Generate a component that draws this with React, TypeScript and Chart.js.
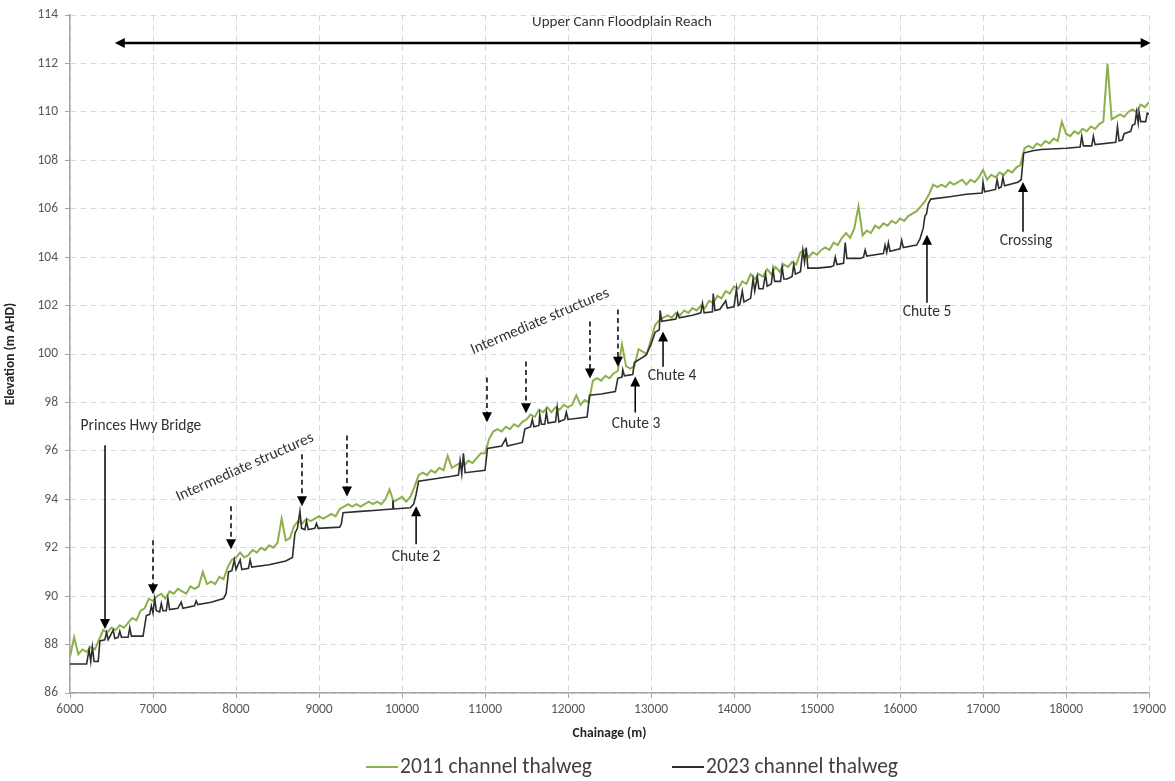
import React, { useEffect, useRef } from 'react';
import { Chart, registerables } from 'chart.js';

Chart.register(...registerables);

const FONT = "Carlito, Calibri, Lato, 'Open Sans', sans-serif";

// ---------- data ----------
const chainage2011 = [
  6000, 6050, 6100, 6150, 6200, 6250, 6300, 6350, 6400, 6450,
  6500, 6550, 6600, 6650, 6700, 6750, 6800, 6850, 6900, 6950,
  7000, 7050, 7100, 7150, 7200, 7250, 7300, 7350, 7400, 7450,
  7500, 7550, 7600, 7650, 7700, 7750, 7800, 7850, 7900, 7950,
  8000, 8050, 8100, 8150, 8200, 8250, 8300, 8350, 8400, 8450,
  8500, 8550, 8600, 8650, 8700, 8750, 8800, 8850, 8900, 8950,
  9000, 9050, 9100, 9150, 9200, 9250, 9300, 9350, 9400, 9450,
  9500, 9550, 9600, 9650, 9700, 9750, 9800, 9850, 9900, 9950,
  10000, 10050, 10100, 10150, 10200, 10250, 10300, 10350, 10400, 10450,
  10500, 10550, 10600, 10650, 10700, 10750, 10800, 10850, 10900, 10950,
  11000, 11050, 11100, 11150, 11200, 11250, 11300, 11350, 11400, 11450,
  11500, 11550, 11600, 11650, 11700, 11750, 11800, 11850, 11900, 11950,
  12000, 12050, 12100, 12150, 12200, 12250, 12300, 12350, 12400, 12450,
  12500, 12550, 12600, 12650, 12700, 12750, 12800, 12850, 12900, 12950,
  13000, 13050, 13100, 13150, 13200, 13250, 13300, 13350, 13400, 13450,
  13500, 13550, 13600, 13650, 13700, 13750, 13800, 13850, 13900, 13950,
  14000, 14050, 14100, 14150, 14200, 14250, 14300, 14350, 14400, 14450,
  14500, 14550, 14600, 14650, 14700, 14750, 14800, 14850, 14900, 14950,
  15000, 15050, 15100, 15150, 15200, 15250, 15300, 15350, 15400, 15450,
  15500, 15550, 15600, 15650, 15700, 15750, 15800, 15850, 15900, 15950,
  16000, 16050, 16100, 16150, 16200, 16250, 16300, 16350, 16400, 16450,
  16500, 16550, 16600, 16650, 16700, 16750, 16800, 16850, 16900, 16950,
  17000, 17050, 17100, 17150, 17200, 17250, 17300, 17350, 17400, 17450,
  17500, 17550, 17600, 17650, 17700, 17750, 17800, 17850, 17900, 17950,
  18000, 18050, 18100, 18150, 18200, 18250, 18300, 18350, 18400, 18450,
  18500, 18550, 18600, 18650, 18700, 18750, 18800, 18850, 18900, 18950,
  19000,
];

const elevation2011 = [
  87.5, 88.3, 87.6, 87.8, 87.7, 87.9, 87.8, 88.2, 88.6, 88.5,
  88.7, 88.6, 88.8, 88.7, 88.9, 89.1, 89.0, 89.4, 89.5, 89.9,
  89.8, 90.0, 90.1, 89.9, 90.2, 90.1, 90.3, 90.2, 90.1, 90.4,
  90.3, 90.4, 91.0, 90.5, 90.6, 90.5, 90.8, 90.7, 91.2, 91.5,
  91.6, 91.8, 91.6, 91.7, 91.9, 91.8, 92.0, 91.9, 92.1, 92.0,
  92.2, 93.2, 92.3, 92.4, 92.9, 93.1, 93.0, 93.2, 93.1, 93.2,
  93.3, 93.2, 93.3, 93.4, 93.3, 93.6, 93.7, 93.8, 93.7, 93.8,
  93.7, 93.8, 93.9, 93.8, 93.9, 93.8, 94.0, 94.4, 93.9, 94.0,
  94.1, 93.9, 94.1, 94.5, 95.0, 95.1, 95.0, 95.2, 95.1, 95.3,
  95.2, 95.8, 95.3, 95.4, 95.5, 95.4, 95.6, 95.5, 95.7, 95.9,
  95.9, 96.5, 96.8, 96.9, 96.8, 97.0, 96.9, 97.1, 97.0, 97.2,
  97.3, 97.5, 97.4, 97.7, 97.6, 97.8, 97.6, 97.8, 97.7, 97.9,
  97.8, 97.9, 98.3, 97.9, 98.1, 98.0, 98.9, 99.0, 98.9, 99.1,
  99.0, 99.2, 99.3, 100.4, 99.5, 99.4, 99.5, 100.2, 100.1, 100.0,
  100.6, 101.2, 101.4, 101.5, 101.6, 101.5, 101.7, 101.6, 101.8, 101.7,
  101.9, 101.8, 102.0, 101.9, 102.2, 102.1, 102.4, 102.3, 102.6, 102.5,
  102.8, 102.7, 103.0, 102.9, 103.3, 103.1, 103.3, 103.2, 103.5, 103.3,
  103.6, 103.4, 103.7, 103.6, 103.8, 103.7, 104.2, 104.3, 104.0, 104.2,
  104.1, 104.3, 104.4, 104.3, 104.6, 104.5, 104.8, 105.0, 104.8, 105.2,
  106.1, 104.9, 105.1, 105.0, 105.3, 105.2, 105.4, 105.3, 105.5, 105.4,
  105.6, 105.5, 105.7, 105.8, 105.9, 106.1, 106.3, 106.6, 107.0, 106.9,
  107.0, 106.9, 107.1, 107.0, 107.1, 107.2, 107.0, 107.2, 107.1, 107.3,
  107.6, 107.2, 107.4, 107.3, 107.5, 107.4, 107.6, 107.5, 107.7, 107.8,
  108.5, 108.6, 108.5, 108.7, 108.6, 108.8, 108.7, 108.9, 108.8, 109.6,
  109.1, 109.0, 109.2, 109.1, 109.3, 109.2, 109.4, 109.3, 109.5, 109.6,
  112.0, 109.7, 109.8, 109.9, 109.8, 110.0, 110.1, 110.0, 110.3, 110.2,
  110.4,
];

const chainage2023 = [
  6000, 6200, 6230, 6250, 6270, 6290, 6340, 6360, 6420, 6440,
  6460, 6520, 6540, 6580, 6600, 6620, 6700, 6720, 6740, 6880,
  6920, 6960, 6980, 7000, 7020, 7040, 7080, 7100, 7120, 7160,
  7180, 7200, 7300, 7340, 7360, 7500, 7520, 7540, 7700, 7850,
  7880, 7910, 7950, 7980, 8000, 8050, 8070, 8150, 8170, 8190,
  8400, 8600, 8680, 8710, 8740, 8770, 8790, 8830, 8850, 8870,
  8950, 8970, 8990, 9250, 9270, 9290, 9500, 9700, 9880, 9890,
  9900, 10100, 10140, 10170, 10200, 10400, 10600, 10680, 10700, 10720,
  10740, 10760, 11000, 11030, 11200, 11250, 11270, 11450, 11480, 11550,
  11570, 11590, 11650, 11660, 11680, 11720, 11740, 11760, 11850, 11870,
  11890, 11960, 11980, 12000, 12230, 12260, 12400, 12570, 12600, 12650,
  12660, 12680, 12780, 12800, 12940, 13000, 13050, 13100, 13110, 13130,
  13300, 13320, 13340, 13500, 13600, 13620, 13640, 13740, 13750, 13770,
  13830, 13900, 13920, 14000, 14030, 14050, 14070, 14100, 14120, 14200,
  14230, 14250, 14280, 14300, 14350, 14380, 14400, 14450, 14470, 14490,
  14560, 14580, 14600, 14640, 14700, 14720, 14740, 14800, 14830, 14850,
  14870, 14890, 15000, 15160, 15200, 15220, 15240, 15320, 15340, 15360,
  15520, 15560, 15580, 15600, 15700, 15800, 15820, 15840, 15860, 15880,
  16000, 16020, 16040, 16200, 16240, 16280, 16300, 16320, 16340, 16370,
  16600, 16800, 16990, 17000, 17020, 17150, 17170, 17190, 17220, 17240,
  17260, 17420, 17460, 17490, 17600, 17700, 18000, 18170, 18190, 18210,
  18310, 18330, 18350, 18600, 18620, 18640, 18680, 18700, 18780, 18800,
  18830, 18850, 18870, 18880, 18900, 18960, 18980, 19000,
];

const elevation2023 = [
  87.2, 87.2, 87.8, 87.3, 87.9, 87.3, 87.3, 88.15, 88.2, 88.5,
  88.2, 88.6, 88.25, 88.3, 88.55, 88.3, 88.3, 88.7, 88.35, 88.35,
  89.2, 89.25, 89.6, 89.3, 89.9, 89.4, 89.35, 89.7, 89.4, 89.4,
  89.9, 89.45, 89.5, 89.75, 89.5, 89.6, 89.8, 89.65, 89.75, 89.9,
  90.1, 91.0, 91.05, 91.5, 91.1, 91.5, 91.1, 91.15, 91.5, 91.2,
  91.3, 91.45, 91.6, 92.6, 92.8, 93.5, 92.8, 92.75, 93.1, 92.75,
  92.8, 93.0, 92.8, 92.85, 93.0, 93.45, 93.5, 93.55, 93.6, 93.95,
  93.6, 93.65, 93.8, 94.2, 94.75, 94.85, 94.95, 95.0, 95.6, 95.05,
  95.9, 95.1, 95.2, 96.1, 96.2, 96.5, 96.2, 96.35, 96.9, 97.0,
  97.3, 97.0, 97.05, 97.5, 97.1, 97.1, 97.6, 97.15, 97.2, 97.8,
  97.2, 97.3, 97.6, 97.3, 97.4, 98.3, 98.35, 98.45, 99.0, 99.05,
  99.35, 99.1, 99.15, 99.65, 99.95, 100.4, 100.9, 101.0, 101.8, 101.35,
  101.45, 101.7, 101.5, 101.6, 101.7, 102.1, 101.7, 101.75, 102.5, 101.8,
  101.85, 102.2, 101.9, 101.95, 102.7, 102.0, 102.05, 102.6, 102.15, 102.3,
  103.1, 102.6, 103.2, 102.7, 102.7, 103.3, 102.8, 102.9, 103.5, 103.0,
  103.0, 103.6, 103.1, 103.1, 103.2, 103.7, 103.3, 103.4, 104.3, 103.8,
  104.4, 103.55, 103.55, 103.6, 103.65, 104.0, 103.7, 103.75, 104.6, 103.95,
  103.95, 104.0, 104.3, 104.05, 104.1, 104.15, 104.5, 104.2, 104.6, 104.25,
  104.35, 104.7, 104.4, 104.5, 104.75, 105.2, 105.7, 105.8, 106.2, 106.4,
  106.5, 106.6, 106.65, 107.1, 106.7, 106.8, 107.2, 106.85, 106.9, 107.3,
  106.95, 107.1, 107.2, 108.3, 108.4, 108.45, 108.5, 108.55, 109.0, 108.6,
  108.6, 109.0, 108.65, 108.75, 109.4, 108.8, 108.85, 109.1, 109.2, 109.45,
  109.5, 110.0, 109.55, 110.0, 109.6, 109.6, 109.95, 109.9,
];

const seriesLabels = ['2011 channel thalweg', '2023 channel thalweg'];
const seriesColors = ['#8cb04a', '#2e2e2e'];

// ---------- annotations (in data coordinates) ----------
const reachArrow = { from: 6540, to: 19020, y: 112.85 };
const reachLabel = { text: 'Upper Cann Floodplain Reach', x: 12650, y: 113.71 };

const solidArrows = [
  { x: 6422, from: 96.23, to: 88.64 },
  { x: 10170, from: 92.14, to: 93.71 },
  { x: 12810, from: 97.59, to: 99.07 },
  { x: 13145, from: 99.48, to: 100.93 },
  { x: 16325, from: 102.12, to: 104.93 },
  { x: 17482, from: 105.05, to: 107.11 },
];

const dashedArrows = [
  { x: 7000, from: 92.31, to: 90.08 },
  { x: 7940, from: 93.71, to: 91.94 },
  { x: 8795, from: 95.86, to: 93.71 },
  { x: 9337, from: 96.64, to: 94.12 },
  { x: 11024, from: 99.03, to: 97.18 },
  { x: 11494, from: 99.69, to: 97.55 },
  { x: 12265, from: 101.34, to: 98.99 },
  { x: 12602, from: 101.84, to: 99.48 },
];

const textLabels = [
  { text: 'Princes Hwy Bridge', x: 6855, y: 97.01, rot: 0 },
  { text: 'Intermediate structures', x: 8108, y: 95.32, rot: -24 },
  { text: 'Intermediate structures', x: 11663, y: 101.34, rot: -23 },
  { text: 'Chute 2', x: 10169, y: 91.61, rot: 0 },
  { text: 'Chute 3', x: 12819, y: 97.09, rot: 0 },
  { text: 'Chute 4', x: 13253, y: 99.07, rot: 0 },
  { text: 'Chute 5', x: 16325, y: 101.75, rot: 0 },
  { text: 'Crossing', x: 17518, y: 104.68, rot: 0 },
];

function drawHead(ctx: CanvasRenderingContext2D, tx: number, ty: number, dx: number, dy: number, len: number, hw: number) {
  const l = Math.hypot(dx, dy) || 1;
  const ux = dx / l;
  const uy = dy / l;
  ctx.beginPath();
  ctx.moveTo(tx, ty);
  ctx.lineTo(tx - ux * len - uy * hw, ty - uy * len + ux * hw);
  ctx.lineTo(tx - ux * len + uy * hw, ty - uy * len - ux * hw);
  ctx.closePath();
  ctx.fill();
}

const annotationPlugin = {
  id: 'annotations',
  afterDatasetsDraw(chart: any) {
    const { ctx } = chart;
    const xs = chart.scales.x;
    const ys = chart.scales.y;
    ctx.save();
    ctx.fillStyle = '#000';
    ctx.strokeStyle = '#000';

    // reach double arrow
    {
      const x1 = xs.getPixelForValue(reachArrow.from);
      const x2 = xs.getPixelForValue(reachArrow.to);
      const yy = ys.getPixelForValue(reachArrow.y);
      ctx.lineWidth = 2.5;
      ctx.setLineDash([]);
      ctx.beginPath();
      ctx.moveTo(x1 + 8, yy);
      ctx.lineTo(x2 - 8, yy);
      ctx.stroke();
      drawHead(ctx, x1, yy, -1, 0, 10, 5);
      drawHead(ctx, x2, yy, 1, 0, 10, 5);
    }

    const arrow = (a: { x: number; from: number; to: number }, dashed: boolean) => {
      const px = xs.getPixelForValue(a.x);
      const p1 = ys.getPixelForValue(a.from);
      const p2 = ys.getPixelForValue(a.to);
      const dir = p2 > p1 ? 1 : -1;
      ctx.lineWidth = 1.5;
      ctx.setLineDash(dashed ? [5, 3.5] : []);
      ctx.beginPath();
      ctx.moveTo(px, p1);
      ctx.lineTo(px, p2 - dir * 9);
      ctx.stroke();
      ctx.setLineDash([]);
      drawHead(ctx, px, p2, 0, dir, 10, 5);
    };
    solidArrows.forEach((a) => arrow(a, false));
    dashedArrows.forEach((a) => arrow(a, true));

    ctx.fillStyle = '#333';
    ctx.textAlign = 'center';
    ctx.textBaseline = 'middle';
    ctx.font = `15px ${FONT}`;
    ctx.fillText(reachLabel.text, xs.getPixelForValue(reachLabel.x), ys.getPixelForValue(reachLabel.y));

    ctx.font = `15.5px ${FONT}`;
    textLabels.forEach((t) => {
      const px = xs.getPixelForValue(t.x);
      const py = ys.getPixelForValue(t.y);
      ctx.save();
      ctx.translate(px, py);
      ctx.rotate((t.rot * Math.PI) / 180);
      ctx.fillText(t.text, 0, 0);
      ctx.restore();
    });
    ctx.restore();
  },
  afterDraw(chart: any) {
    // legend
    const { ctx } = chart;
    const starts = [366, 672];
    const yy = 767;
    ctx.save();
    ctx.font = `21.5px ${FONT}`;
    ctx.textBaseline = 'middle';
    ctx.textAlign = 'left';
    chart.data.datasets.forEach((ds: any, i: number) => {
      const x0 = starts[i];
      ctx.strokeStyle = ds.borderColor;
      ctx.lineWidth = 2;
      ctx.beginPath();
      ctx.moveTo(x0, yy);
      ctx.lineTo(x0 + 32, yy);
      ctx.stroke();
      ctx.fillStyle = '#404040';
      ctx.fillText(ds.label, x0 + 34, yy + 1);
    });
    ctx.restore();
  },
};

export default function App() {
  const ref = useRef<HTMLCanvasElement | null>(null);

  useEffect(() => {
    if (!ref.current) return;
    const chart = new Chart(ref.current, {
      type: 'line',
      data: {
        datasets: [
          {
            label: seriesLabels[0],
            data: chainage2011.map((x, i) => ({ x, y: elevation2011[i] })),
            borderColor: seriesColors[0],
            backgroundColor: seriesColors[0],
            borderWidth: 2,
            pointRadius: 0,
            tension: 0,
            order: 1,
          },
          {
            label: seriesLabels[1],
            data: chainage2023.map((x, i) => ({ x, y: elevation2023[i] })),
            borderColor: seriesColors[1],
            backgroundColor: seriesColors[1],
            borderWidth: 1.6,
            pointRadius: 0,
            tension: 0,
            order: 0,
          },
        ],
      },
      options: {
        animation: false,
        responsive: false,
        events: [],
        layout: { padding: { top: 15, right: 26, bottom: 39, left: 0 } },
        plugins: { legend: { display: false }, tooltip: { enabled: false } },
        scales: {
          x: {
            type: 'linear',
            min: 6000,
            max: 19000,
            ticks: {
              stepSize: 1000,
              color: '#595959',
              font: { family: FONT, size: 13.5 },
              padding: 4,
              maxRotation: 0,
              autoSkip: false,
              callback: (v: any) => String(v),
            },
            grid: { color: '#d9d9d9', lineWidth: 1, tickColor: '#a6a6a6', tickLength: 5 },
            border: { color: '#a6a6a6', width: 1.5, dash: [6, 4] },
            title: {
              display: true,
              text: 'Chainage (m)',
              color: '#262626',
              font: { family: FONT, size: 13.5, weight: 'bold' },
              padding: { top: 4, bottom: 0 },
            },
            afterFit: (s: any) => {
              s.height = 49;
            },
          },
          y: {
            type: 'linear',
            min: 86,
            max: 114,
            ticks: {
              stepSize: 2,
              color: '#595959',
              font: { family: FONT, size: 13.5 },
              padding: 7,
              callback: (v: any) => String(v),
            },
            grid: { color: '#d9d9d9', lineWidth: 1, tickColor: '#a6a6a6', tickLength: 5 },
            border: { color: '#a6a6a6', width: 1.5, dash: [6, 4] },
            title: {
              display: true,
              text: 'Elevation (m AHD)',
              color: '#262626',
              font: { family: FONT, size: 13.5, weight: 'bold' },
              padding: { top: 3, bottom: 0 },
            },
            afterFit: (s: any) => {
              s.width = 70;
            },
          },
        },
      },
      plugins: [annotationPlugin],
    } as any);
    return () => chart.destroy();
  }, []);

  return (
    <div style={{ position: 'absolute', left: 0, top: 0, width: 1175, height: 781, background: '#fff' }}>
      <canvas ref={ref} width={1175} height={781} style={{ display: 'block' }} />
    </div>
  );
}
